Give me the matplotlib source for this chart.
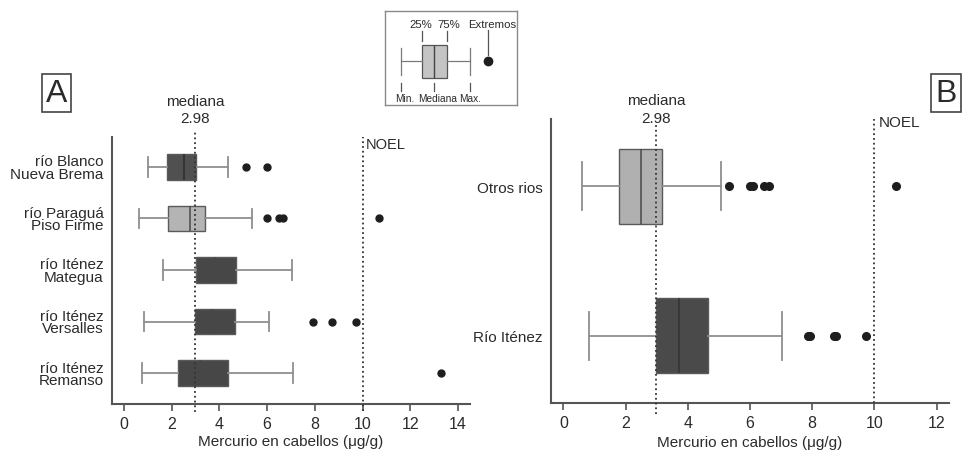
import matplotlib.pyplot as plt

plt.rcParams['font.family'] = ['Liberation Sans', 'DejaVu Sans']

# Panel A: estadísticos por localidad (µg/g)
grupos_a = ["río Blanco\nNueva Brema", "río Paraguá\nPiso Firme", "río Iténez\nMategua",
            "río Iténez\nVersalles", "río Iténez\nRemanso"]
min_a = [0.99, 0.61, 1.62, 0.84, 0.74]
q1_a = [1.82, 1.86, 3.00, 2.99, 2.28]
med_a = [2.51, 2.78, 3.80, 3.70, 3.20]
q3_a = [3.02, 3.39, 4.71, 4.65, 4.35]
max_a = [4.35, 5.38, 7.06, 6.09, 7.10]
ext_a = [[5.11, 5.98], [5.98, 6.51, 6.65, 10.70], [], [7.91, 8.73, 9.72], [13.29]]
color_a = ['#505050', '#b4b4b4', '#474747', '#474747', '#474747']
linea_med_a = ['#2e2e2e', '#4a4a4a', '#474747', '#474747', '#474747']

# Panel B: otros ríos frente al río Iténez
grupos_b = ["Otros rios", "Río Iténez"]
min_b = [0.61, 0.81]
q1_b = [1.80, 2.97]
med_b = [2.49, 3.72]
q3_b = [3.18, 4.64]
max_b = [5.06, 7.02]
ext_b = [[5.33, 6.00, 6.08, 6.46, 6.60, 10.70], [7.86, 7.92, 8.70, 8.76, 9.72]]
color_b = ['#b0b0b0', '#4a4a4a']
linea_med_b = ['#4a4a4a', '#333333']

mediana = 2.98
noel = 10

txt = '#2b2b2b'
gris = '#555555'


def stats(mn, q1, md, q3, mx, ext):
    return [dict(whislo=a, q1=b, med=c, q3=d, whishi=e, fliers=f)
            for a, b, c, d, e, f in zip(mn, q1, md, q3, mx, ext)]


def cajas(ax, st, colores, medcol, capw, ms):
    pos = list(range(1, len(st) + 1))
    r = ax.bxp(st, positions=pos, orientation='horizontal', widths=0.5, capwidths=capw,
               patch_artist=True, showfliers=True,
               boxprops=dict(edgecolor='#5a5a5a', linewidth=1.0),
               whiskerprops=dict(color='#8f8f8f', linewidth=1.3),
               capprops=dict(color='#8f8f8f', linewidth=1.3),
               medianprops=dict(linewidth=1.1),
               flierprops=dict(marker='o', markerfacecolor='#1e1e1e', markeredgecolor='#1e1e1e',
                               markersize=ms))
    for caja, c in zip(r['boxes'], colores):
        caja.set_facecolor(c)
    for m, c in zip(r['medians'], medcol):
        m.set_color(c)
    return pos


def ejes(ax):
    for s in ['top', 'right']:
        ax.spines[s].set_visible(False)
    for s in ['left', 'bottom']:
        ax.spines[s].set_color(gris)
        ax.spines[s].set_linewidth(1.5)
    ax.tick_params(axis='y', length=0, pad=6, labelsize=11, labelcolor=txt)
    ax.tick_params(axis='x', length=5, width=1.2, color=gris, labelsize=11.5, labelcolor=txt)


fig = plt.figure(figsize=(9.64, 4.52), dpi=100)

# --- A ---
ax_a = fig.add_axes([0.1162, 0.104, 0.3714, 0.5907])
pos = cajas(ax_a, stats(min_a, q1_a, med_a, q3_a, max_a, ext_a), color_a, linea_med_a, 0.38, 5)
ax_a.set_yticks(pos, grupos_a)
for t in ax_a.get_yticklabels():
    t.set_linespacing(0.85)
ax_a.set_ylim(5.6, 0.42)
ax_a.set_xlim(-0.5, 14.5)
ax_a.set_xticks(range(0, 15, 2))
ax_a.axvline(mediana, ymin=-0.03, ymax=1.022, color='#333333', ls=':', lw=1.3, clip_on=False, zorder=5)
ax_a.axvline(noel, ymin=-0.026, ymax=1.0, color='#333333', ls=':', lw=1.3, clip_on=False, zorder=5)
ax_a.text(mediana, 1.135, 'mediana', transform=ax_a.get_xaxis_transform(), ha='center', va='center',
          fontsize=11, color=txt)
ax_a.text(mediana, 1.071, '2.98', transform=ax_a.get_xaxis_transform(), ha='center', va='center',
          fontsize=11, color=txt)
ax_a.text(noel + 0.15, 0.974, 'NOEL', transform=ax_a.get_xaxis_transform(), ha='left', va='center',
          fontsize=10.5, color=txt, family=['Liberation Sans Narrow', 'Liberation Sans'])
ax_a.set_xlabel('Mercurio en cabellos (μg/g)', fontsize=11, color=txt, labelpad=2)
ejes(ax_a)

# --- B ---
ax_b = fig.add_axes([0.5716, 0.1062, 0.4129, 0.6283])
pos = cajas(ax_b, stats(min_b, q1_b, med_b, q3_b, max_b, ext_b), color_b, linea_med_b, 0.32, 5.5)
ax_b.set_yticks(pos, grupos_b)
ax_b.set_ylim(2.45, 0.55)
ax_b.set_xlim(-0.4, 12.4)
ax_b.set_xticks(range(0, 13, 2))
ax_b.axvline(mediana, ymin=-0.039, ymax=0.99, color='#333333', ls=':', lw=1.3, clip_on=False, zorder=5)
ax_b.axvline(noel, ymin=0.0, ymax=1.0, color='#333333', ls=':', lw=1.3, clip_on=False, zorder=5)
ax_b.text(mediana, 1.067, 'mediana', transform=ax_b.get_xaxis_transform(), ha='center', va='center',
          fontsize=11, color=txt)
ax_b.text(mediana, 1.004, '2.98', transform=ax_b.get_xaxis_transform(), ha='center', va='center',
          fontsize=11, color=txt)
ax_b.text(noel + 0.15, 0.99, 'NOEL', transform=ax_b.get_xaxis_transform(), ha='left', va='center',
          fontsize=11, color=txt)
ax_b.set_xlabel('Mercurio en cabellos (μg/g)', fontsize=11, color=txt, labelpad=4)
ejes(ax_b)

# letras de panel
fig.text(56.5 / 964, 1 - 94 / 452, 'A', fontsize=23, color=txt, ha='center', va='center',
         bbox=dict(boxstyle='square,pad=0.12', fc='white', ec='#444444', lw=1.2))
fig.text(946 / 964, 1 - 94 / 452, 'B', fontsize=23, color=txt, ha='center', va='center',
         bbox=dict(boxstyle='square,pad=0.12', fc='white', ec='#444444', lw=1.2))

# clave del diagrama de caja
clave = dict(whislo=16, q1=36.7, med=49, q3=61.7, whishi=85, fliers=[103])
ax_k = fig.add_axes([385 / 964, 1 - 106 / 452, 132 / 964, 94 / 452])
for s in ax_k.spines.values():
    s.set_color('#8a8a8a')
    s.set_linewidth(1.0)
ax_k.bxp([clave], positions=[50], orientation='horizontal', widths=33, capwidths=27,
         patch_artist=True,
         boxprops=dict(facecolor='#c4c4c4', edgecolor='#555555', linewidth=0.9),
         whiskerprops=dict(color='#7a7a7a', linewidth=0.9),
         capprops=dict(color='#7a7a7a', linewidth=0.9),
         medianprops=dict(color='#444444', linewidth=1.0),
         flierprops=dict(marker='o', markerfacecolor='#1e1e1e', markeredgecolor='#1e1e1e',
                         markersize=6))
ax_k.set_xlim(0, 132)
ax_k.set_ylim(94, 0)
ax_k.set_xticks([])
ax_k.set_yticks([])
for x, y0, y1 in [(clave['q1'], 20, 30), (clave['q3'], 20, 30), (clave['fliers'][0], 19, 44)]:
    ax_k.plot([x, x], [y0, y1], color='#555555', lw=0.9)
for x in [clave['whislo'], clave['med'], clave['whishi']]:
    ax_k.plot([x, x], [72, 80], color='#555555', lw=0.9)
for x, s in [(36, '25%'), (64, '75%'), (107, 'Extremos')]:
    ax_k.text(x, 13, s, ha='center', va='center', fontsize=8.2, color=txt)
for x, s in [(20, 'Min.'), (53, 'Mediana'), (85, 'Max.')]:
    ax_k.text(x, 87, s, ha='center', va='center', fontsize=7.3, color=txt)

fig.savefig('out.png', dpi=100)
